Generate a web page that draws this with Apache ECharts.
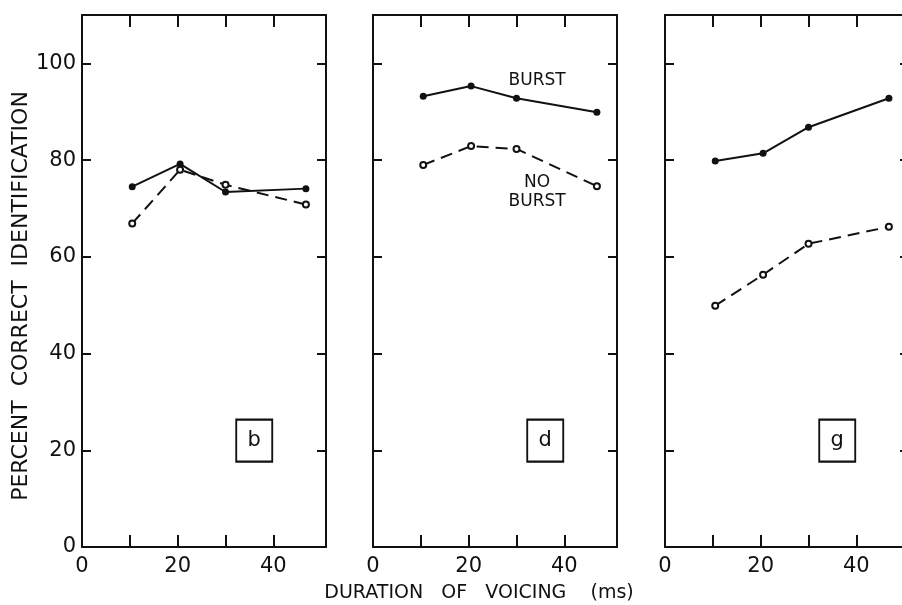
<!DOCTYPE html>
<html>
<head>
<meta charset="utf-8">
<script src="https://cdn.jsdelivr.net/npm/echarts@6/dist/echarts.min.js"></script>
<style>
  html, body { margin: 0; padding: 0; background: #fff; }
  #chart { width: 902px; height: 605px; }
</style>
</head>
<body>
<div id="chart"></div>
<script>
// Voicing durations (ms) at which identification was measured
const durations = [10.5, 20.5, 30, 46.8];

// Percent correct identification, one pair of curves per stop consonant
const panelLetters = ['b', 'd', 'g'];
const burstB   = [74.5, 79.2, 73.4, 74.1];
const noBurstB = [66.9, 78.0, 74.9, 70.8];
const burstD   = [93.2, 95.3, 92.8, 89.9];
const noBurstD = [79.0, 82.9, 82.3, 74.6];
const burstG   = [79.8, 81.4, 86.8, 92.8];
const noBurstG = [49.9, 56.3, 62.7, 66.2];

const xTickLabels = [0, 20, 40];
const xMinorTicks = [10, 20, 30, 40];
const yTickLabels = [0, 20, 40, 60, 80, 100];
const yTicks = [20, 40, 60, 80, 100];

const burstSets = [burstB, burstD, burstG];
const noBurstSets = [noBurstB, noBurstD, noBurstG];

const FONT = '"DejaVu Sans", sans-serif';
const INK = '#111';

const gridLefts = [82, 373, 665];
const grids = gridLefts.map(l => ({
  left: l, top: 15, width: 244, height: 532, show: false,
  outerBoundsMode: 'none', containLabel: false
}));

const axisLine = { show: true, onZero: false, lineStyle: { color: INK, width: 2 } };

const xAxes = [];
const yAxes = [];
gridLefts.forEach((_, i) => {
  xAxes.push({
    type: 'value', gridIndex: i, position: 'bottom', min: 0, max: 51,
    axisLine,
    axisTick: { show: true, inside: true, length: 12, customValues: xMinorTicks, lineStyle: { color: INK, width: 2 } },
    axisLabel: { show: true, customValues: xTickLabels, fontSize: 21, color: INK, fontFamily: FONT, margin: 9 },
    splitLine: { show: false }
  });
  xAxes.push({
    type: 'value', gridIndex: i, position: 'top', min: 0, max: 51,
    axisLine,
    axisTick: { show: true, inside: true, length: 12, customValues: xMinorTicks, lineStyle: { color: INK, width: 2 } },
    axisLabel: { show: false },
    splitLine: { show: false }
  });
  yAxes.push({
    type: 'value', gridIndex: i, position: 'left', min: 0, max: 110,
    axisLine,
    axisTick: { show: true, inside: true, length: 9, customValues: yTicks, lineStyle: { color: INK, width: 2 } },
    axisLabel: { show: i === 0, customValues: yTickLabels, fontSize: 21, color: INK, fontFamily: FONT, margin: 6 },
    splitLine: { show: false }
  });
  yAxes.push({
    type: 'value', gridIndex: i, position: 'right', min: 0, max: 110,
    axisLine,
    axisTick: { show: true, inside: true, length: 9, customValues: yTicks, lineStyle: { color: INK, width: 2 } },
    axisLabel: { show: false },
    splitLine: { show: false }
  });
});

const pairs = ys => durations.map((d, k) => [d, ys[k]]);

const series = [];
panelLetters.forEach((letter, i) => {
  const burstSeries = {
    type: 'line', name: 'BURST',
    xAxisIndex: 2 * i, yAxisIndex: 2 * i,
    data: pairs(burstSets[i]),
    symbol: 'circle', symbolSize: 7,
    itemStyle: { color: INK },
    lineStyle: { color: INK, width: 2 },
    animation: false,
    markPoint: {
      animation: false,
      data: [{
        coord: [36, 22],
        symbol: 'rect', symbolSize: [36, 42],
        itemStyle: { color: '#fff', borderColor: INK, borderWidth: 2 },
        label: { show: true, position: 'inside', formatter: letter, fontSize: 21, color: INK, fontFamily: FONT }
      }]
    }
  };
  if (i === 1) {
    const note = (coord, text) => ({
      coord, symbol: 'rect', symbolSize: 1,
      itemStyle: { color: 'rgba(0,0,0,0)' },
      label: { show: true, position: 'inside', formatter: text, fontSize: 17, lineHeight: 19, color: INK, fontFamily: FONT }
    });
    burstSeries.markPoint.data.push(note([34.3, 96.5], 'BURST'));
    burstSeries.markPoint.data.push(note([34.3, 73.4], 'NO\nBURST'));
  }
  series.push(burstSeries);
  series.push({
    type: 'line', name: 'NO BURST',
    xAxisIndex: 2 * i, yAxisIndex: 2 * i,
    data: pairs(noBurstSets[i]),
    symbol: 'emptyCircle', symbolSize: 6,
    itemStyle: { color: INK, borderWidth: 1.5 },
    lineStyle: { color: INK, width: 2, type: [12, 7] },
    animation: false
  });
});

const chart = echarts.init(document.getElementById('chart'), null, { renderer: 'canvas' });
chart.setOption({
  backgroundColor: '#fff',
  animation: false,
  grid: grids,
  xAxis: xAxes,
  yAxis: yAxes,
  series,
  graphic: [
    {
      type: 'text', x: 21, y: 296, rotation: Math.PI / 2,
      style: { text: 'PERCENT  CORRECT  IDENTIFICATION', font: '22px "DejaVu Sans"', fill: INK, align: 'center', verticalAlign: 'middle' }
    },
    {
      type: 'text', x: 479, y: 593,
      style: { text: 'DURATION   OF   VOICING    (ms)', font: '19px "DejaVu Sans"', fill: INK, align: 'center', verticalAlign: 'middle' }
    }
  ]
});
</script>
</body>
</html>
